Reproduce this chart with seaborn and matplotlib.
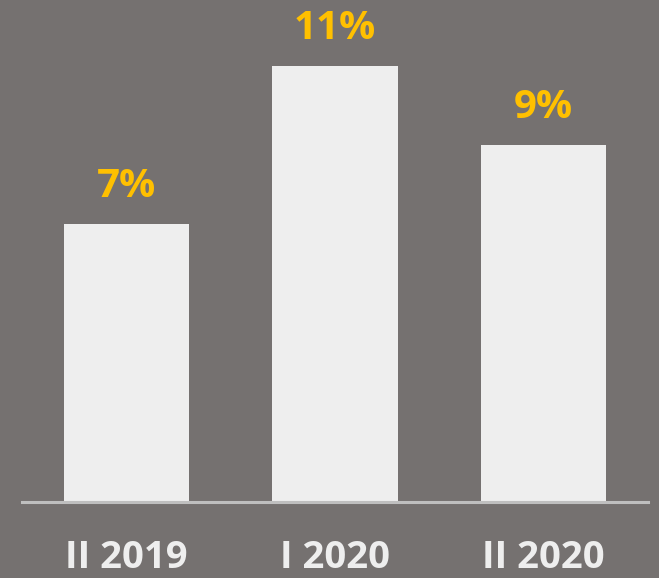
import pandas as pd
import matplotlib
matplotlib.use("Agg")
import matplotlib.pyplot as plt
import seaborn as sns

# Data
periods = ["II 2019", "I 2020", "II 2020"]
values = [7, 11, 9]
labels = ["7%", "11%", "9%"]

bg = "#757170"
bar_color = "#EEEEEE"
label_color = "#FFC000"

sns.set_style("white")
plt.rcParams["font.family"] = ["Open Sans", "DejaVu Sans"]

df = pd.DataFrame({"period": periods, "value": values})

fig = plt.figure(figsize=(6.59, 5.78), dpi=100, facecolor=bg)
ax = fig.add_axes([22 / 659, 76 / 578, 626 / 659, 502 / 578])
ax.set_facecolor(bg)

sns.barplot(data=df, x="period", y="value", color=bar_color, saturation=1,
            width=0.6, linewidth=0, ax=ax)

ax.set_xlim(-0.5, 2.5)
ax.set_ylim(0, 12.66)

for i, (v, lab) in enumerate(zip(values, labels)):
    ax.annotate(lab, (i, v), xytext=(0, 13), textcoords="offset points",
                ha="center", va="bottom", fontsize=29, fontweight="bold",
                color=label_color)

for s in ["top", "right", "left"]:
    ax.spines[s].set_visible(False)
ax.spines["bottom"].set_color("#BFBFBF")
ax.spines["bottom"].set_linewidth(2.2)

ax.set_yticks([])
ax.set_xlabel("")
ax.set_ylabel("")
ax.tick_params(axis="x", length=0, pad=27, labelsize=27.5, labelcolor="#EEEEEE")
for t in ax.get_xticklabels():
    t.set_fontweight("bold")

fig.savefig("out.png", dpi=100, facecolor=bg)
